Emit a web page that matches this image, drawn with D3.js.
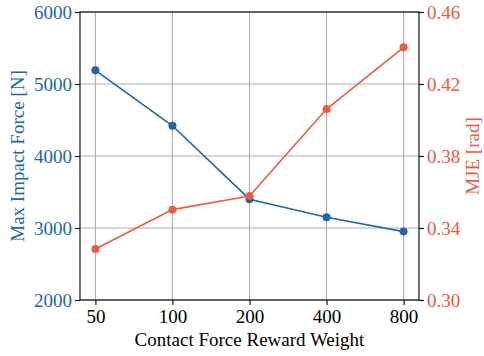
<!DOCTYPE html>
<html>
<head>
<meta charset="utf-8">
<script src="https://cdn.jsdelivr.net/npm/d3@7"></script>
<style>
  body { margin: 0; background: #fff; }
  svg text { font-family: "Liberation Serif", "Times New Roman", serif; }
</style>
</head>
<body>
<svg id="chart" width="484" height="356"></svg>
<script>
const CHART = d3.select('#chart');

// data
const weights = ['50', '100', '200', '400', '800'];
const impactForce = [5190, 4420, 3400, 3150, 2950];
const mje = [0.3283, 0.3502, 0.3578, 0.4061, 0.4404];
const forceTicks = [2000, 3000, 4000, 5000, 6000];
const mjeTicks = [0.30, 0.34, 0.38, 0.42, 0.46];

const BLUE = '#2066a8';
const RED = '#ee5a3c';
const FS = 19;
const FONT = '"Liberation Serif", "Times New Roman", serif';

const margin = { top: 12, right: 65, bottom: 56, left: 80 };
const width = 484 - margin.left - margin.right;
const height = 356 - margin.top - margin.bottom;

const g = CHART.append('g')
    .attr('transform', `translate(${margin.left},${margin.top})`);

const x = d3.scalePoint().domain(weights).range([0, width]).padding(0.2);
const yL = d3.scaleLinear().domain([2000, 6000]).range([height, 0]);
const yR = d3.scaleLinear().domain([0.30, 0.46]).range([height, 0]);

// grid
g.append('g')
    .selectAll('line.vg')
    .data(weights)
    .join('line')
    .attr('x1', d => x(d)).attr('x2', d => x(d))
    .attr('y1', 0).attr('y2', height)
    .attr('stroke', '#b0b0b0').attr('stroke-width', 1.1);

g.append('g')
    .selectAll('line.hg')
    .data(forceTicks)
    .join('line')
    .attr('x1', 0).attr('x2', width)
    .attr('y1', d => yL(d)).attr('y2', d => yL(d))
    .attr('stroke', '#b0b0b0').attr('stroke-width', 1.1);

// axes
function styleAxis(sel, color) {
    sel.attr('font-family', FONT).attr('font-size', FS);
    sel.select('.domain').remove();
    sel.selectAll('.tick line').attr('stroke', '#000').attr('stroke-width', 1.1);
    sel.selectAll('.tick text')
        .attr('fill', color)
        .style('font-family', FONT)
        .style('font-size', FS + 'px');
}

g.append('g')
    .attr('transform', `translate(0,${height})`)
    .call(d3.axisBottom(x).tickSize(5).tickPadding(5))
    .call(s => styleAxis(s, '#000'));

g.append('g')
    .call(d3.axisLeft(yL).tickValues(forceTicks).tickFormat(d3.format('d')).tickSize(5).tickPadding(3))
    .call(s => styleAxis(s, BLUE));

g.append('g')
    .attr('transform', `translate(${width},0)`)
    .call(d3.axisRight(yR).tickValues(mjeTicks).tickFormat(d3.format('.2f')).tickSize(5).tickPadding(3))
    .call(s => styleAxis(s, RED));

// frame
g.append('rect')
    .attr('width', width).attr('height', height)
    .attr('fill', 'none').attr('stroke', '#000').attr('stroke-width', 1.1);

// series
function drawSeries(values, scale, color) {
    const pts = weights.map((w, i) => [x(w), scale(values[i])]);
    g.append('path')
        .attr('d', d3.line()(pts))
        .attr('fill', 'none')
        .attr('stroke', color)
        .attr('stroke-width', 1.6);
    g.append('g')
        .selectAll('circle')
        .data(pts)
        .join('circle')
        .attr('cx', d => d[0]).attr('cy', d => d[1])
        .attr('r', 4)
        .attr('fill', color);
}

drawSeries(impactForce, yL, BLUE);
drawSeries(mje, yR, RED);

// labels
CHART.append('text')
    .attr('x', margin.left + width / 2)
    .attr('y', 346)
    .attr('text-anchor', 'middle')
    .style('font-size', FS + 'px')
    .attr('fill', '#000')
    .text('Contact Force Reward Weight');

CHART.append('text')
    .attr('transform', `translate(24,${margin.top + height / 2}) rotate(-90)`)
    .attr('text-anchor', 'middle')
    .style('font-size', FS + 'px')
    .attr('fill', BLUE)
    .text('Max Impact Force [N]');

CHART.append('text')
    .attr('transform', `translate(479,${margin.top + height / 2}) rotate(-90)`)
    .attr('text-anchor', 'middle')
    .style('font-size', FS + 'px')
    .attr('fill', RED)
    .text('MJE [rad]');
</script>
</body>
</html>
